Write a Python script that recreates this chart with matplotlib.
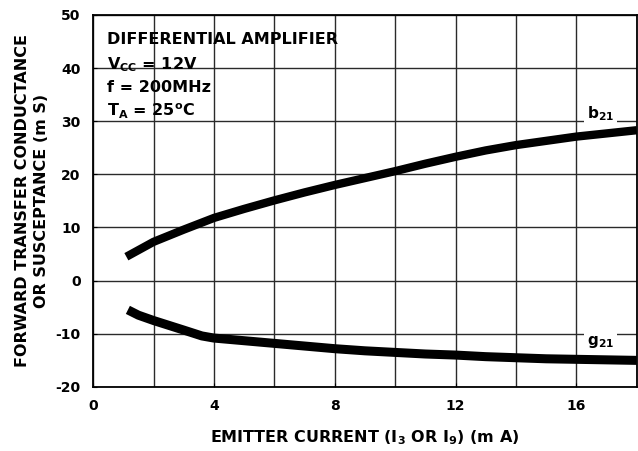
import matplotlib
matplotlib.use("Agg")
import matplotlib.pyplot as plt
from matplotlib.patches import Rectangle

# Data (emitter current in mA, value in mS)
b21_current = [1.1, 2, 3, 4, 5, 6, 7, 8, 9, 10, 11, 12, 13, 14, 15, 16, 17, 18]
b21_value = [4.5, 7.3, 9.6, 11.8, 13.5, 15.1, 16.6, 18.0, 19.3, 20.6, 22.0,
             23.3, 24.5, 25.5, 26.3, 27.1, 27.7, 28.3]

g21_current = [1.15, 1.5, 2, 2.5, 3, 3.6, 4, 5, 6, 7, 8, 9, 10, 11, 12, 13,
               14, 15, 16, 17, 18]
g21_value = [-5.5, -6.5, -7.5, -8.4, -9.3, -10.4, -10.8, -11.3, -11.8, -12.3,
             -12.8, -13.2, -13.5, -13.8, -14.0, -14.3, -14.5, -14.7, -14.8,
             -14.9, -15.0]

x_ticks = [0, 4, 8, 12, 16]
y_ticks = [-20, -10, 0, 10, 20, 30, 40, 50]

plt.rcParams['font.family'] = ['DejaVu Sans']
plt.rcParams['font.weight'] = 'bold'
plt.rcParams['mathtext.fontset'] = 'dejavusans'
plt.rcParams['mathtext.default'] = 'bf'
plt.rcParams['axes.unicode_minus'] = False

fig, ax = plt.subplots(figsize=(6.38, 4.51), dpi=100)
fig.subplots_adjust(left=0.146, right=0.998, top=0.967, bottom=0.142)

ax.set_xlim(0, 18)
ax.set_ylim(-20, 50)
ax.set_xticks(x_ticks)
ax.set_xticks(range(0, 19, 2), minor=True)
ax.set_yticks(y_ticks)
ax.grid(True, which='both', color='#2a2a2a', lw=1.0, zorder=0)
ax.tick_params(which='both', direction='in', length=3, labelsize=10, pad=9)
ax.tick_params(which='minor', length=0)
for lbl in ax.get_xticklabels() + ax.get_yticklabels():
    lbl.set_fontweight('bold')
for sp in ax.spines.values():
    sp.set_linewidth(1.3)

# white area behind the condition text
ax.add_patch(Rectangle((0, 28.3), 8.8, 18.3, facecolor='white',
                       edgecolor='none', zorder=1))
ax.add_patch(Rectangle((0, 46.0), 7.7, 4.0, facecolor='white',
                       edgecolor='none', zorder=1))

ax.plot(b21_current, b21_value, color='black', lw=6, solid_capstyle='butt', zorder=3)
ax.plot(g21_current, g21_value, color='black', lw=6.5, solid_capstyle='butt', zorder=3)

fs = 11.5
ax.text(0.46, 45.3, 'DIFFERENTIAL AMPLIFIER', fontsize=fs, fontweight='bold', va='center', zorder=4)
ax.text(0.46, 40.6, 'V$_{CC}$ = 12V', fontsize=fs, fontweight='bold', va='center', zorder=4)
ax.text(0.46, 36.3, 'f = 200MHz', fontsize=fs, fontweight='bold', va='center', zorder=4)
ax.text(0.46, 31.8, 'T$_{A}$ = 25$^{o}$C', fontsize=fs, fontweight='bold', va='center', zorder=4)

box = dict(facecolor='white', edgecolor='none', pad=2)
ax.text(16.8, 31.5, 'b$_{21}$', fontsize=11, fontweight='bold', ha='center', va='center', bbox=box, zorder=4)
ax.text(16.8, -11.6, 'g$_{21}$', fontsize=11, fontweight='bold', ha='center', va='center', bbox=box, zorder=4)

ax.set_xlabel('EMITTER CURRENT (I$_3$ OR I$_9$) (m A)', fontsize=11.5, fontweight='bold', labelpad=11)
ax.set_ylabel('FORWARD TRANSFER CONDUCTANCE\nOR SUSCEPTANCE (m S)', fontsize=11.5,
              fontweight='bold', labelpad=5, linespacing=1.3)

fig.savefig('out.png', dpi=100)
